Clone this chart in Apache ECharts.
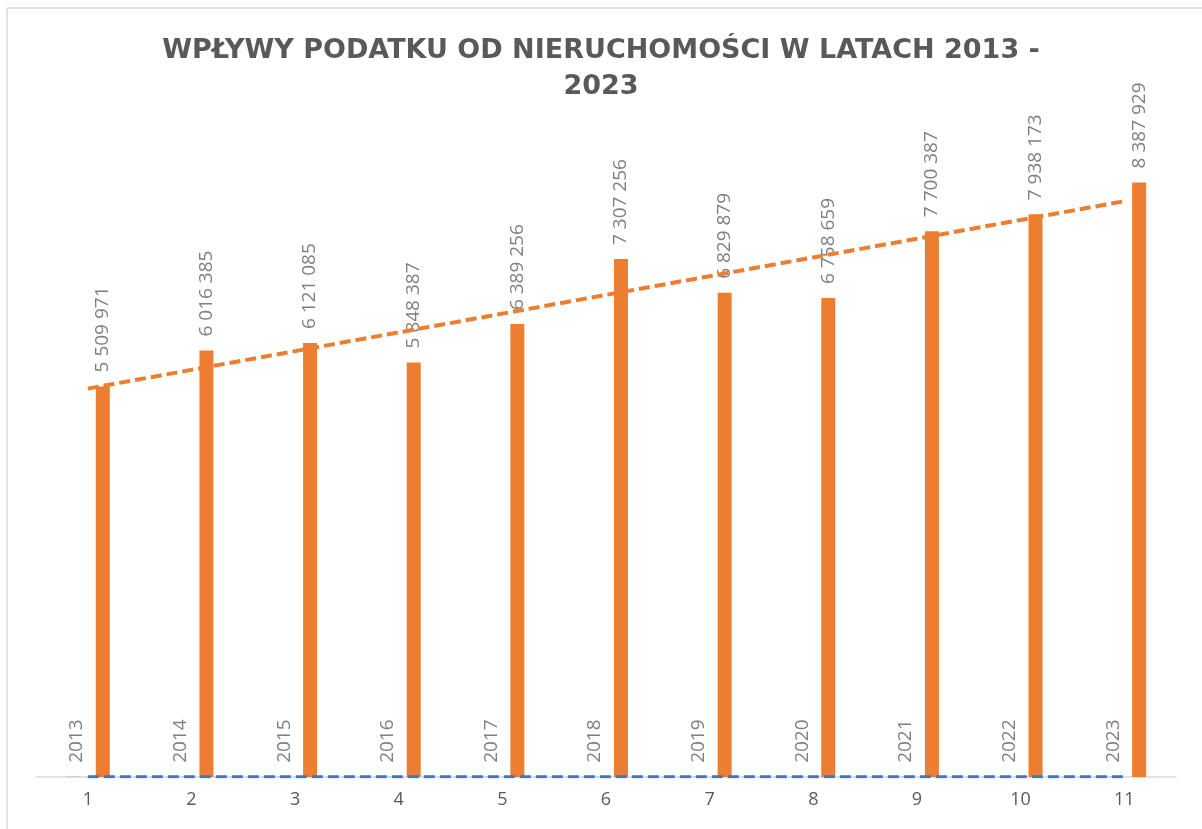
<!DOCTYPE html>
<html>
<head>
<meta charset="utf-8">
<script src="https://cdn.jsdelivr.net/npm/echarts@6/dist/echarts.min.js"></script>
<style>
  html, body { margin: 0; padding: 0; background: #fff; }
  #main { width: 1202px; height: 829px; }
</style>
</head>
<body>
<div id="main"></div>
<script>
var categories = ['1', '2', '3', '4', '5', '6', '7', '8', '9', '10', '11'];
var years = [2013, 2014, 2015, 2016, 2017, 2018, 2019, 2020, 2021, 2022, 2023];
var revenue = [5509971, 6016385, 6121085, 5848387, 6389256, 7307256, 6829879, 6758659, 7700387, 7938173, 8387929];

// linia trendu liczona tak jak w Excelu (regresja liniowa)
function trend(arr) {
  var n = arr.length, sx = 0, sy = 0, sxy = 0, sxx = 0;
  for (var i = 0; i < n; i++) {
    var x = i + 1;
    sx += x; sy += arr[i]; sxy += x * arr[i]; sxx += x * x;
  }
  var b = (n * sxy - sx * sy) / (n * sxx - sx * sx);
  var a = (sy - b * sx) / n;
  var out = [];
  for (var j = 0; j < n; j++) out.push(a + b * (j + 1));
  return out;
}

function fmt(v) {
  return String(v).replace(/\B(?=(\d{3})+(?!\d))/g, ' ');
}

var myChart = echarts.init(document.getElementById('main'));
var option = {
  backgroundColor: '#fff',
  animation: false,
  title: {
    text: 'WPŁYWY PODATKU OD NIERUCHOMOŚCI W LATACH 2013 -\n2023',
    left: 'center',
    top: 28,
    textStyle: {
      fontFamily: 'DejaVu Sans',
      fontSize: 27,
      fontWeight: 'bold',
      color: '#595959',
      lineHeight: 36
    }
  },
  graphic: [
    { type: 'line', shape: { x1: 7, y1: 8, x2: 1202, y2: 8 }, style: { stroke: '#d9d9d9', lineWidth: 1.5 } },
    { type: 'line', shape: { x1: 7, y1: 8, x2: 7, y2: 829 }, style: { stroke: '#d9d9d9', lineWidth: 1.5 } }
  ],
  grid: { left: 36, right: 26, top: 139, bottom: 52 },
  xAxis: {
    type: 'category',
    data: categories,
    axisLine: { lineStyle: { color: '#d9d9d9', width: 1.5 } },
    axisTick: { show: false },
    axisLabel: { color: '#595959', fontSize: 18, fontFamily: 'Open Sans', margin: 14 }
  },
  yAxis: {
    type: 'value',
    min: 0,
    max: 9000000,
    show: false,
    splitLine: { show: false }
  },
  series: [
    {
      name: 'Rok',
      type: 'bar',
      data: years,
      barWidth: 14,
      barGap: '114%',
      itemStyle: { color: '#4472C4' },
      label: {
        show: true,
        position: 'top',
        rotate: 90,
        align: 'left',
        verticalAlign: 'middle',
        distance: 14,
        offset: [0, 4],
        color: '#7f7f7f',
        fontSize: 19,
        fontFamily: 'Open Sans'
      },
      z: 2
    },
    {
      name: 'Wpływy',
      type: 'bar',
      data: revenue,
      barWidth: 14,
      itemStyle: { color: '#ED7D31' },
      label: {
        show: true,
        position: 'top',
        rotate: 90,
        align: 'left',
        verticalAlign: 'middle',
        distance: 14,
        color: '#7f7f7f',
        fontSize: 19,
        fontFamily: 'Open Sans',
        formatter: function (p) { return fmt(p.value); }
      },
      z: 2
    },
    {
      name: 'Trend Rok',
      type: 'line',
      data: trend(years),
      showSymbol: false,
      lineStyle: { color: '#4472C4', width: 3, type: [11, 5] },
      z: 3
    },
    {
      name: 'Trend Wpływy',
      type: 'line',
      data: trend(revenue),
      showSymbol: false,
      lineStyle: { color: '#ED7D31', width: 4, type: [11, 5] },
      z: 3
    }
  ]
};
myChart.setOption(option);
</script>
</body>
</html>
